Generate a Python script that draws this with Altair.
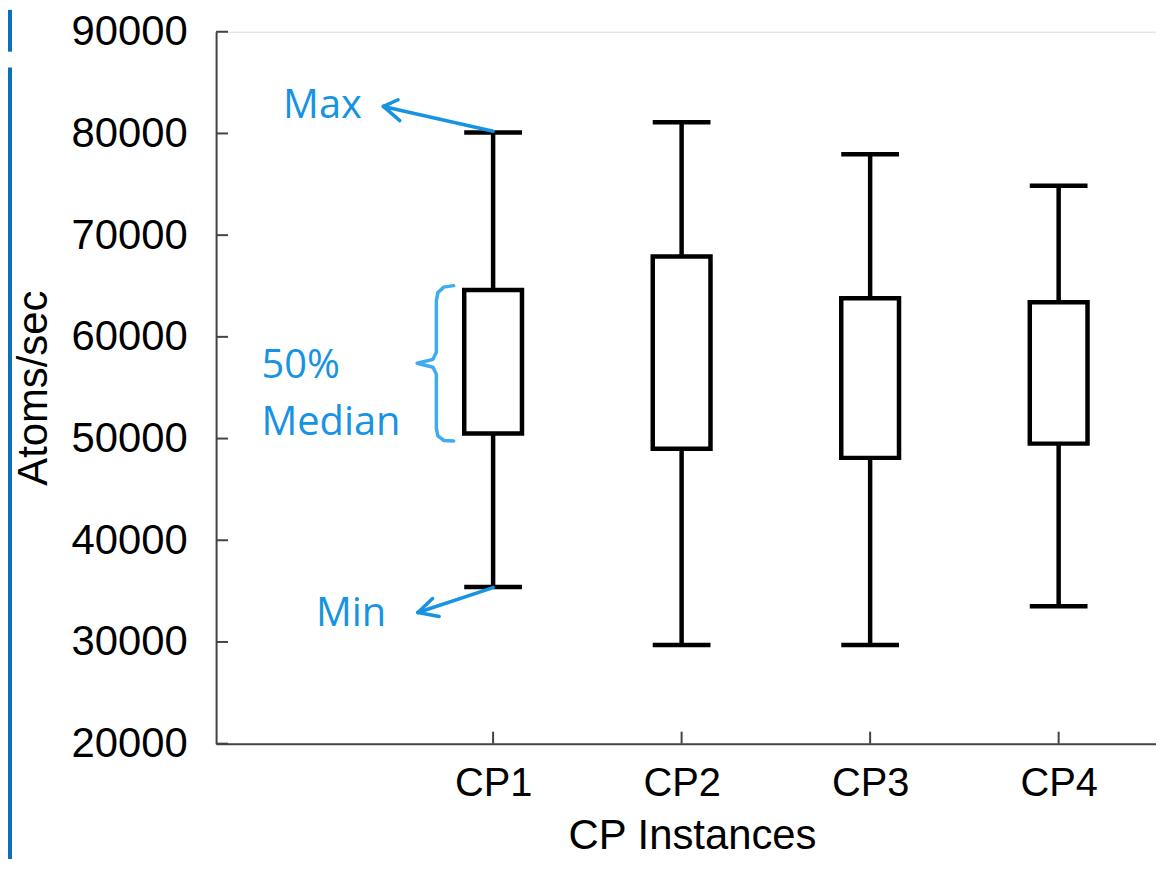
import altair as alt
import pandas as pd

# ---- data ----
categories = ["CP1", "CP2", "CP3", "CP4"]
positions = [1, 2, 3, 4]
mins = [35400, 29700, 29700, 33500]
q1s = [50500, 49000, 48100, 49500]
q3s = [64600, 67900, 63800, 63400]
maxs = [80100, 81100, 77950, 74850]

y_ticks = [20000, 30000, 40000, 50000, 60000, 70000, 80000, 90000]

# annotation arrows (data coords): segment id, order, x, y
arrow_seg = ["max_shaft", "max_shaft", "max_a1", "max_a1", "max_a2", "max_a2",
             "min_shaft", "min_shaft", "min_a1", "min_a1", "min_a2", "min_a2"]
arrow_ord = [0, 1, 0, 1, 0, 1, 0, 1, 0, 1, 0, 1]
arrow_x = [1.0, 0.418, 0.418, 0.496, 0.418, 0.505,
           1.0, 0.601, 0.601, 0.679, 0.601, 0.714]
arrow_y = [80210, 82657, 82657, 83313, 82657, 81257,
           35340, 32895, 32895, 34266, 32895, 32503]

brace_x = [0.791, 0.738, 0.707, 0.699, 0.699, 0.681, 0.597, 0.681, 0.699, 0.699, 0.707, 0.738, 0.791]
brace_y = [65036, 64889, 64350, 63567, 58476, 57791, 57399, 57008, 56322, 51036, 50253, 49812, 49763]

ann_text = ["Max", "Min", "50%", "Median"]
ann_x = [0.095, 0.247, -0.229, -0.229]
ann_y = [81483, 31583, 55931, 50350]
ann_align = ["center", "center", "left", "left"]

box_df = pd.DataFrame({"cat": categories, "pos": positions, "min": mins,
                       "q1": q1s, "q3": q3s, "max": maxs})
arrow_df = pd.DataFrame({"seg": arrow_seg, "ord": arrow_ord, "x": arrow_x, "y": arrow_y})
brace_df = pd.DataFrame({"ord": list(range(len(brace_x))), "x": brace_x, "y": brace_y})
text_df = pd.DataFrame({"t": ann_text, "x": ann_x, "y": ann_y, "align": ann_align})
ytick_df = pd.DataFrame({"v": y_ticks})
xtick_df = pd.DataFrame({"p": positions})

BLUE = "#1693e2"
BRACE = "#3fabf0"
AXIS = "#444444"
EDGE = "#0b6fba"
FONT = "Liberation Sans"
AFONT = "Open Sans"

xscale = alt.Scale(domain=[-0.443, 4.490], nice=False, zero=False)
yscale = alt.Scale(domain=[20000, 90000], nice=False, zero=False)

label_expr = "[''," + ",".join("'%s'" % c for c in categories) + "][datum.value]"

x_axis = alt.Axis(values=positions, labelExpr=label_expr, title="CP Instances",
                  grid=False, domainColor=AXIS, domainWidth=2, ticks=False,
                  labelFont=FONT, labelFontSize=40, labelColor="#000000", labelPadding=20,
                  titleFont=FONT, titleFontSize=42, titleFontWeight="normal",
                  titleColor="#000000", titleBaseline="alphabetic", titleY=105, titleX=478)
y_axis = alt.Axis(values=y_ticks, format="d", title="Atoms/sec",
                  grid=False, domainColor=AXIS, domainWidth=2, ticks=False,
                  labelFont=FONT, labelFontSize=42, labelColor="#000000", labelPadding=29,
                  titleFont=FONT, titleFontSize=42, titleFontWeight="normal",
                  titleColor="#000000", titleBaseline="alphabetic", titleX=-170)


def X(field):
    return alt.X(field, scale=xscale, axis=x_axis, title="CP Instances")


def Y(field):
    return alt.Y(field, scale=yscale, axis=y_axis, title="Atoms/sec")


base = alt.Chart(box_df)

# slide edge decoration (left border)
edge_top = alt.Chart(xtick_df.head(1)).mark_rule(color=EDGE, strokeWidth=4).encode(
    x=alt.value(-207), y=alt.value(-22), y2=alt.value(20),
)
edge_bot = alt.Chart(xtick_df.head(1)).mark_rule(color=EDGE, strokeWidth=4).encode(
    x=alt.value(-207), y=alt.value(36), y2=alt.value(840),
)

# inward-pointing axis ticks
yticks = alt.Chart(ytick_df).mark_rule(color=AXIS, strokeWidth=2).encode(
    x=alt.value(0), x2=alt.value(12), y=Y("v:Q"),
)
xticks = alt.Chart(xtick_df).mark_rule(color=AXIS, strokeWidth=2).encode(
    x=X("p:Q"), y=alt.value(715), y2=alt.value(703),
)

whisker = base.mark_rule(color="black", strokeWidth=4.5).encode(
    x=X("pos:Q"), y=Y("min:Q"), y2="max:Q",
)
box = base.mark_bar(size=58, fill="white", stroke="black", strokeWidth=4.5).encode(
    x=X("pos:Q"), y=Y("q1:Q"), y2="q3:Q",
)
cap_min = base.mark_tick(orient="horizontal", size=58, thickness=4.5, color="black", opacity=1).encode(
    x=X("pos:Q"), y=Y("min:Q"),
)
cap_max = base.mark_tick(orient="horizontal", size=58, thickness=4.5, color="black", opacity=1).encode(
    x=X("pos:Q"), y=Y("max:Q"),
)
arrows = alt.Chart(arrow_df).mark_line(color=BLUE, strokeWidth=3.5, strokeCap="round").encode(
    x=X("x:Q"), y=Y("y:Q"), detail="seg:N", order="ord:Q",
)
brace = alt.Chart(brace_df).mark_line(color=BRACE, strokeWidth=3.5, strokeCap="round",
                                      strokeJoin="round").encode(
    x=X("x:Q"), y=Y("y:Q"), order="ord:Q",
)
text_c = alt.Chart(text_df[text_df["align"] == "center"]).mark_text(
    font=AFONT, fontSize=40, color=BLUE, align="center", baseline="alphabetic").encode(
    x=X("x:Q"), y=Y("y:Q"), text="t:N",
)
text_l = alt.Chart(text_df[text_df["align"] == "left"]).mark_text(
    font=AFONT, fontSize=40, color=BLUE, align="left", baseline="alphabetic").encode(
    x=X("x:Q"), y=Y("y:Q"), text="t:N",
)

chart = alt.layer(edge_top, edge_bot, yticks, xticks, whisker, box, cap_min, cap_max,
                  arrows, brace, text_c, text_l).properties(
    width=944, height=715,
    autosize=alt.AutoSizeParams(type="none"),
    padding={"left": 209, "top": 22, "right": 0, "bottom": 114},
).configure_view(strokeWidth=0, stroke="transparent").configure(background="white")

chart.save("out.html", embed_options={"renderer": "svg", "actions": False})
